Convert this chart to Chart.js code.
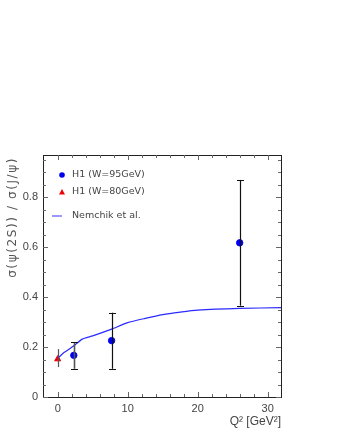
<!DOCTYPE html>
<html>
<head>
<meta charset="utf-8">
<script src="https://cdn.jsdelivr.net/npm/chart.js@4"></script>
<style>
  html, body { margin: 0; padding: 0; background: #fff; }
  #wrap { width: 338px; height: 437px; }
</style>
</head>
<body>
<div id="wrap"><canvas id="c" width="338" height="437"></canvas></div>
<script>
// H1, W = 95 GeV
const q2H1_95 = [2.3, 7.7, 26.0];
const ratioH1_95 = [0.167, 0.226, 0.618];
const errLoH1_95 = [0.113, 0.113, 0.366];
const errHiH1_95 = [0.220, 0.338, 0.870];

// H1, W = 80 GeV (photoproduction)
const q2H1_80 = [0.0];
const ratioH1_80 = [0.152];
const errLoH1_80 = [0.120];
const errHiH1_80 = [0.192];

// Nemchik et al. prediction
const q2Theory = [0, 1, 2.3, 3.5, 5, 7.7, 10, 12.5, 15, 17.5, 20, 26, 32];
const ratioTheory = [0.155, 0.18, 0.205, 0.232, 0.245, 0.272, 0.298, 0.315, 0.33, 0.34, 0.348, 0.355, 0.358];

const xTicks = [0, 10, 20, 30];
const yTicks = [0, 0.2, 0.4, 0.6, 0.8];

const FONT = 'Liberation Sans';
const TXT = '#444';

const toPts = (xs, ys) => xs.map((x, i) => ({ x: x, y: ys[i] }));

// error bars, frame with inward ticks, legend and y title
const frame = {
  id: 'frame',
  afterDatasetsDraw(chart) {
    const ctx = chart.ctx;
    const xs = chart.scales.x, ys = chart.scales.y;
    ctx.save();
    const bars = [
      [q2H1_80, errLoH1_80, errHiH1_80, '#555', false, 1.2],
      [q2H1_95, errLoH1_95, errHiH1_95, '#111', true, 1.2]
    ];
    bars.forEach(([qs, lo, hi, col, caps, w]) => {
      qs.forEach((q, i) => {
        ctx.strokeStyle = (caps && i === 0) ? '#555' : col;
        ctx.lineWidth = (caps && i === 0) ? 1.6 : w;
        const px = Math.round(xs.getPixelForValue(q)) + 0.5;
        const y1 = ys.getPixelForValue(lo[i]), y2 = ys.getPixelForValue(hi[i]);
        ctx.beginPath();
        ctx.moveTo(px, y1); ctx.lineTo(px, y2);
        ctx.stroke();
        if (caps) {
          ctx.strokeStyle = '#111';
          ctx.lineWidth = 1;
          ctx.beginPath();
          ctx.moveTo(px - 3.5, Math.round(y1) + 0.5); ctx.lineTo(px + 3.5, Math.round(y1) + 0.5);
          ctx.moveTo(px - 3.5, Math.round(y2) + 0.5); ctx.lineTo(px + 3.5, Math.round(y2) + 0.5);
          ctx.stroke();
        }
      });
    });
    ctx.restore();
  },
  afterDraw(chart) {
    const ctx = chart.ctx;
    const xs = chart.scales.x, ys = chart.scales.y;
    const a = chart.chartArea;
    ctx.save();
    ctx.strokeStyle = '#222';
    ctx.lineWidth = 1;
    ctx.strokeRect(Math.round(a.left) + 0.5, Math.round(a.top) + 0.5,
      Math.round(a.right - a.left), Math.round(a.bottom - a.top));
    ctx.strokeStyle = '#666';
    ctx.beginPath();
    for (let v = 0; v <= 31; v += 2) {
      const px = Math.round(xs.getPixelForValue(v)) + 0.5;
      const len = v % 10 === 0 ? 5 : 3;
      ctx.moveTo(px, a.bottom); ctx.lineTo(px, a.bottom - len);
      ctx.moveTo(px, a.top); ctx.lineTo(px, a.top + len);
    }
    for (let k = 0; k <= 19; k++) {
      const v = k * 0.05;
      const py = Math.round(ys.getPixelForValue(v)) + 0.5;
      const len = k % 4 === 0 ? 5 : 3;
      ctx.moveTo(a.left, py); ctx.lineTo(a.left + len, py);
      ctx.moveTo(a.right, py); ctx.lineTo(a.right - len, py);
    }
    ctx.stroke();

    // legend inside the frame
    const lx = a.left + 19, tx = a.left + 29;
    ctx.font = '9.5px "DejaVu Sans"';
    ctx.fillStyle = TXT;
    ctx.textBaseline = 'middle';
    ctx.fillText('H1 (W=95GeV)', tx, a.top + 20);
    ctx.fillText('H1 (W=80GeV)', tx, a.top + 37);
    ctx.fillText('Nemchik et al.', tx, a.top + 61);
    ctx.fillStyle = '#0000ee';
    ctx.beginPath(); ctx.arc(lx, a.top + 20, 2.8, 0, Math.PI * 2); ctx.fill();
    ctx.fillStyle = '#ee0000';
    ctx.beginPath();
    ctx.moveTo(lx, a.top + 34); ctx.lineTo(lx + 3, a.top + 39.5); ctx.lineTo(lx - 3, a.top + 39.5);
    ctx.closePath(); ctx.fill();
    ctx.strokeStyle = '#7777ff';
    ctx.lineWidth = 1.5;
    ctx.beginPath(); ctx.moveTo(a.left + 9, a.top + 61); ctx.lineTo(a.left + 19, a.top + 61); ctx.stroke();

    // y axis title, rotated, ending at the top of the frame
    ctx.translate(13, a.top + 2);
    ctx.rotate(-Math.PI / 2);
    ctx.font = '12px "DejaVu Sans"';
    ctx.letterSpacing = '1.6px';
    ctx.textAlign = 'right';
    ctx.fillStyle = '#555';
    ctx.fillText('σ(ψ(2S)) / σ(J/ψ)', 0, 0);
    ctx.restore();
  }
};

new Chart(document.getElementById('c'), {
  type: 'scatter',
  data: {
    datasets: [
      {
        label: 'Nemchik et al.',
        type: 'line',
        data: toPts(q2Theory, ratioTheory),
        borderColor: '#2a2aff',
        borderWidth: 1.2,
        pointRadius: 0,
        tension: 0.2,
        fill: false
      },
      {
        label: 'H1 (W=95GeV)',
        data: toPts(q2H1_95, ratioH1_95),
        backgroundColor: '#0000ee',
        borderColor: '#0000ee',
        pointRadius: 3.2,
        pointStyle: 'circle'
      },
      {
        label: 'H1 (W=80GeV)',
        data: toPts(q2H1_80, ratioH1_80),
        backgroundColor: '#ee0000',
        borderColor: '#ee0000',
        pointRadius: 3.5,
        pointStyle: 'triangle'
      }
    ]
  },
  options: {
    responsive: false,
    animation: false,
    layout: { padding: { top: 155, right: 57, left: 0, bottom: 0 } },
    plugins: { legend: { display: false }, tooltip: { enabled: false } },
    scales: {
      x: {
        type: 'linear',
        min: -2.1,
        max: 31.9,
        afterBuildTicks: s => { s.ticks = xTicks.map(v => ({ value: v })); },
        afterFit: s => { s.height = 40; },
        grid: { display: false, drawTicks: false },
        border: { display: false },
        ticks: { padding: 5, color: TXT, font: { family: FONT, size: 11 } },
        title: {
          display: true, text: 'Q² [GeV²]', align: 'end',
          color: TXT, font: { family: FONT, size: 12 }, padding: { top: 0, bottom: 8 }
        }
      },
      y: {
        type: 'linear',
        min: 0,
        max: 0.97,
        afterBuildTicks: s => { s.ticks = yTicks.map(v => ({ value: v })); },
        afterFit: s => { s.width = 43; },
        grid: { display: false, drawTicks: false },
        border: { display: false },
        ticks: {
          padding: 5, color: TXT, font: { family: FONT, size: 11 },
          callback: v => v === 0 ? '0' : v.toFixed(1)
        }
      }
    }
  },
  plugins: [frame]
});
</script>
</body>
</html>
